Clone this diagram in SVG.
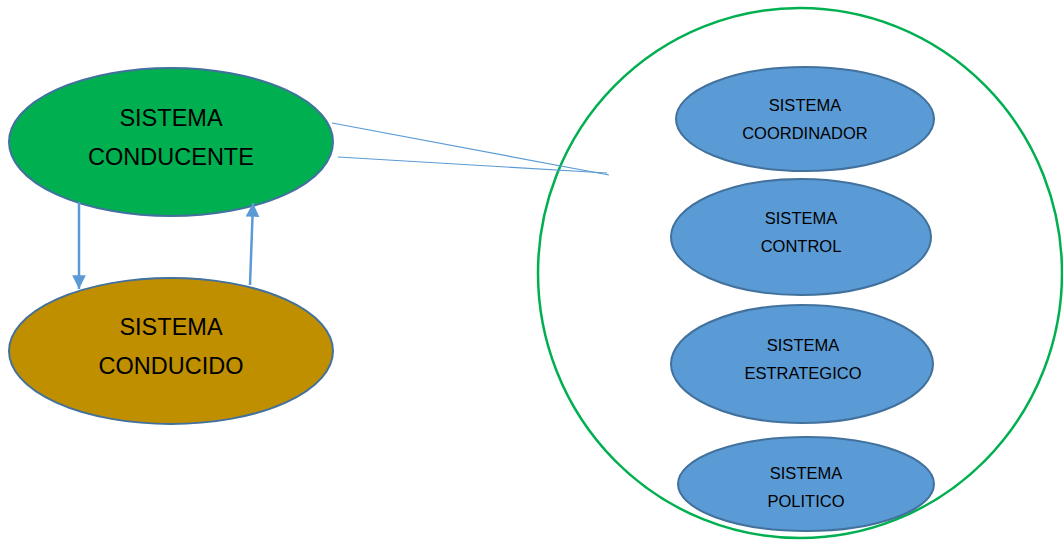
<svg xmlns="http://www.w3.org/2000/svg" width="1063" height="542" viewBox="0 0 1063 542">
<style>
.node{stroke:#41719C;stroke-width:2}
.big{font-family:"Liberation Sans","Open Sans",sans-serif;font-size:23.5px;fill:#000;text-anchor:middle}
.small{font-family:"Liberation Sans","Open Sans",sans-serif;font-size:16.5px;fill:#000;text-anchor:middle}
.conn{stroke:#5B9BD5;fill:none}
</style>
<defs>
<marker id="ah" viewBox="0 0 10 10" refX="10" refY="5" markerWidth="5.5" markerHeight="6" markerUnits="strokeWidth" orient="auto">
<path d="M0,0 L10,5 L0,10 Z" fill="#5B9BD5"/>
</marker>
</defs>
<rect width="1063" height="542" fill="#fff"/>
<g id="container">
<ellipse cx="800" cy="273" rx="262" ry="265" fill="none" stroke="#00B050" stroke-width="2.5"/>
</g>
<g id="conductor">
<ellipse class="node" cx="171" cy="142" rx="162" ry="74" fill="#00B050"/>
<text class="big" x="171" y="126">SISTEMA</text>
<text class="big" x="171" y="165">CONDUCENTE</text>
</g>
<g id="conducido">
<ellipse class="node" cx="171" cy="351" rx="162" ry="73" fill="#BF8F00"/>
<text class="big" x="171" y="335">SISTEMA</text>
<text class="big" x="171" y="374">CONDUCIDO</text>
</g>
<g id="coordinador">
<ellipse class="node" cx="805" cy="119" rx="129" ry="52" fill="#5B9BD5"/>
<text class="small" x="805" y="111">SISTEMA</text>
<text class="small" x="805" y="139">COORDINADOR</text>
</g>
<g id="control">
<ellipse class="node" cx="801" cy="237" rx="130" ry="58" fill="#5B9BD5"/>
<text class="small" x="801" y="224">SISTEMA</text>
<text class="small" x="801" y="252">CONTROL</text>
</g>
<g id="estrategico">
<ellipse class="node" cx="802" cy="364" rx="131" ry="59" fill="#5B9BD5"/>
<text class="small" x="803" y="351">SISTEMA</text>
<text class="small" x="803" y="379">ESTRATEGICO</text>
</g>
<g id="politico">
<ellipse class="node" cx="806" cy="484" rx="128" ry="47" fill="#5B9BD5"/>
<text class="small" x="806" y="479">SISTEMA</text>
<text class="small" x="806" y="507">POLITICO</text>
</g>
<g id="connectors">
<line class="conn" x1="79" y1="202" x2="79" y2="289" stroke-width="2.5" marker-end="url(#ah)"/>
<line class="conn" x1="250" y1="285" x2="253" y2="203" stroke-width="2.5" marker-end="url(#ah)"/>
<line class="conn" x1="332" y1="123" x2="609" y2="175" stroke-width="1.2"/>
<line class="conn" x1="338" y1="157" x2="607" y2="173" stroke-width="1.2"/>
</g>
</svg>
